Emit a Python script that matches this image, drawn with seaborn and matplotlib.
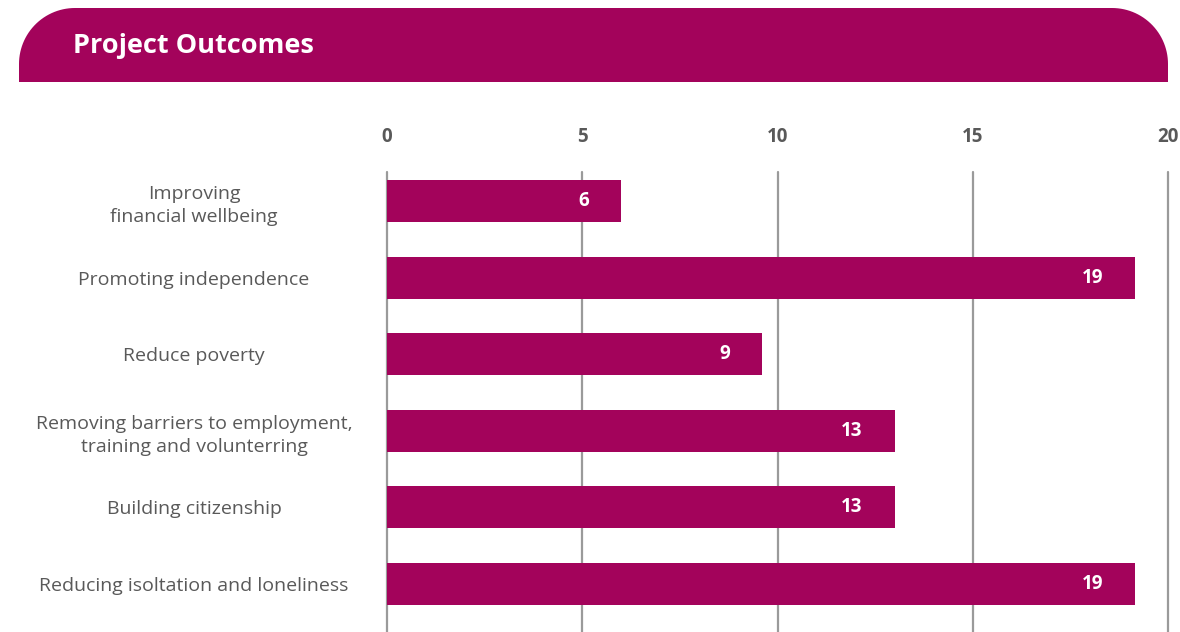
import matplotlib
matplotlib.use("Agg")
import matplotlib.pyplot as plt
import seaborn as sns
import numpy as np
import pandas as pd
from matplotlib.patches import Polygon

# ---- data ----
categories = [
    "Improving\nfinancial wellbeing",
    "Promoting independence",
    "Reduce poverty",
    "Removing barriers to employment,\ntraining and volunterring",
    "Building citizenship",
    "Reducing isoltation and loneliness",
]
values = [6, 19.15, 9.6, 13, 13, 19.15]
value_labels = ["6", "19", "9", "13", "13", "19"]
x_ticks = [0, 5, 10, 15, 20]
title = "Project Outcomes"

MAGENTA = "#A3035B"
GRAY = "#595959"
GRID = "#9a9a9a"

sns.set_theme(style="white")
plt.rcParams["font.family"] = ["Open Sans", "DejaVu Sans"]

W, H = 1180, 632
fig = plt.figure(figsize=(W / 100, H / 100), dpi=100)

# ---- banner (background axes in pixel coords) ----
bg = fig.add_axes([0, 0, 1, 1], zorder=0)
bg.set_xlim(0, W)
bg.set_ylim(H, 0)
bg.axis("off")
x0, x1, y0, y1, r = 19, 1168, 8, 82, 56
t1 = np.linspace(np.pi, 1.5 * np.pi, 30)
t2 = np.linspace(1.5 * np.pi, 2 * np.pi, 30)
pts = [(x0, y1)]
pts += [(x0 + r + r * np.cos(t), y0 + r + r * np.sin(t)) for t in t1]
pts += [(x1 - r + r * np.cos(t), y0 + r + r * np.sin(t)) for t in t2]
pts += [(x1, y1)]
bg.add_patch(Polygon(pts, closed=True, facecolor=MAGENTA, edgecolor="none"))
bg.text(73, 46, title, color="white", fontsize=19.5, fontweight="bold",
        va="center", ha="left")

# ---- main chart ----
left_px, right_px, top_px = 387, 1168, 172
ax = fig.add_axes([left_px / W, 0, (right_px - left_px) / W, (H - top_px) / H], zorder=1)
ax.patch.set_alpha(0)

df = pd.DataFrame({"category": categories, "value": values})
sns.barplot(data=df, y="category", x="value", orient="h", color=MAGENTA,
            width=0.55, saturation=1, linewidth=0, ax=ax, zorder=3)

ax.set_xlim(0, 20)
ax.set_ylim(5.627, -0.379)
for xv in x_ticks:
    ax.axvline(xv, color=GRID, lw=1.6, zorder=1, clip_on=False)

for sp in ax.spines.values():
    sp.set_visible(False)

ax.xaxis.tick_top()
ax.set_xticks(x_ticks)
ax.set_xticklabels([str(v) for v in x_ticks], fontweight="bold", color=GRAY, fontsize=13.5)
ax.tick_params(axis="x", length=0, pad=18)

ax.set_yticks(range(len(categories)))
ax.set_yticklabels(categories, color=GRAY, fontsize=14, ha="center",
                   multialignment="center", linespacing=1.35)
ax.tick_params(axis="y", length=0, pad=139)
ax.set_xlabel("")
ax.set_ylabel("")

for i, (v, lab) in enumerate(zip(values, value_labels)):
    ax.annotate(lab, xy=(v, i), xytext=(-23, 0), textcoords="offset points",
                ha="right", va="center", color="white", fontweight="bold",
                fontsize=13.5, zorder=4)

fig.savefig("out.png", dpi=100)
